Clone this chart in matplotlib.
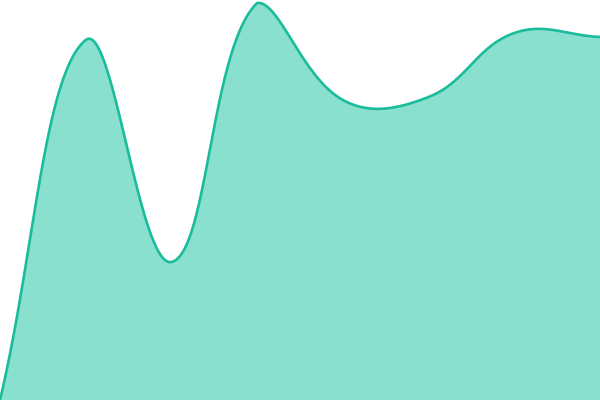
'''
Smooth area sparkline
'''
import numpy as np
import matplotlib
matplotlib.use('Agg')
import matplotlib.pyplot as plt

x = np.arange(8)
y = np.array([0, 360, 138, 397, 300, 303, 367, 363])

W, H = 600, 400
TENSION = 0.4


def spline(px, py, t=TENSION, steps=60):
    # cardinal-style bezier, control points weighted by segment length
    n = len(px)
    pts = np.column_stack([px, py]).astype(float)
    cp_prev = pts.copy()
    cp_next = pts.copy()
    for i in range(n):
        prev = pts[max(i - 1, 0)]
        cur = pts[i]
        nxt = pts[min(i + 1, n - 1)]
        d01 = np.hypot(*(cur - prev))
        d12 = np.hypot(*(nxt - cur))
        tot = d01 + d12
        s01 = d01 / tot if tot else 0
        s12 = d12 / tot if tot else 0
        cp_prev[i] = cur - t * s01 * (nxt - prev)
        cp_next[i] = cur + t * s12 * (nxt - prev)
    # keep control points inside the plot area
    cp_prev[:, 0] = np.clip(cp_prev[:, 0], 0, W)
    cp_next[:, 0] = np.clip(cp_next[:, 0], 0, W)
    cp_prev[:, 1] = np.clip(cp_prev[:, 1], 0, H)
    cp_next[:, 1] = np.clip(cp_next[:, 1], 0, H)
    s = np.linspace(0, 1, steps)[:, None]
    out = []
    for i in range(n - 1):
        p0, p1, p2, p3 = pts[i], cp_next[i], cp_prev[i + 1], pts[i + 1]
        seg = ((1 - s)**3 * p0 + 3 * (1 - s)**2 * s * p1
               + 3 * (1 - s) * s**2 * p2 + s**3 * p3)
        out.append(seg if i == 0 else seg[1:])
    out = np.vstack(out)
    return out[:, 0], out[:, 1]


def main():
    px = x * W / x[-1]
    xs, ys = spline(px, y)

    fig = plt.figure(figsize=(6, 4), dpi=100)
    ax = fig.add_axes([0, 0, 1, 1])
    ax.fill_between(xs, ys, 0, color='#8ae0cf', linewidth=0)
    ax.plot(xs, ys, color='#1abc9c', linewidth=1.9)
    ax.set_xlim(0, W)
    ax.set_ylim(0, H)
    ax.axis('off')
    fig.savefig('out.png', dpi=100)


if __name__ == '__main__':
    main()
